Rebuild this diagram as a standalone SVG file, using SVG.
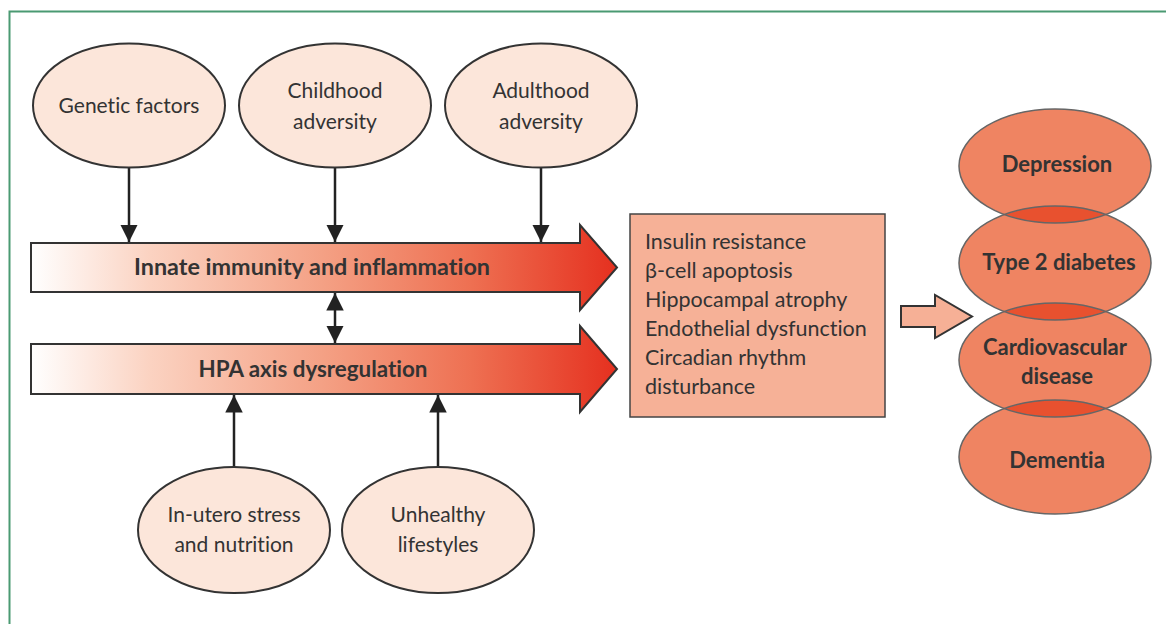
<svg xmlns="http://www.w3.org/2000/svg" width="1166" height="624" viewBox="0 0 1166 624">
  <style>
    text { font-variant-ligatures: none; font-feature-settings: "liga" 0, "clig" 0, "dlig" 0; }
    .lbl { font-family: Lato, "Open Sans", "Liberation Sans", sans-serif; fill: #333; font-size: 21px; text-anchor: middle; }
    .bold { font-weight: bold; font-size: 22px; }
    .list { font-family: Lato, "Open Sans", "Liberation Sans", sans-serif; fill: #333; font-size: 21.5px; }
    .factor { fill: #fce6da; stroke: #333; stroke-width: 2; }
    .outcome { fill: #ef8462; }
    .outline { fill: none; stroke: #666; stroke-width: 1.5; }
    .lens { fill: #e8512f; }
    .link { stroke: #222; stroke-width: 2.5; fill: none; }
    .path { stroke: #333; stroke-width: 2; }
  </style>
  <defs>
    <linearGradient id="pathFill" gradientUnits="userSpaceOnUse" x1="31" y1="0" x2="617" y2="0">
      <stop offset="0" stop-color="#ffffff"/>
      <stop offset="0.2" stop-color="#fbd3c2"/>
      <stop offset="0.5" stop-color="#f4a084"/>
      <stop offset="0.75" stop-color="#ee7052"/>
      <stop offset="1" stop-color="#e5301f"/>
    </linearGradient>
    <marker id="head" viewBox="0 0 10 10" refX="10" refY="5" markerWidth="7" markerHeight="7" markerUnits="strokeWidth" orient="auto-start-reverse">
      <path d="M0,0 L10,5 L0,10 Z" fill="#222"/>
    </marker>
    <clipPath id="clipDep"><ellipse cx="1055" cy="166" rx="96" ry="57"/></clipPath>
    <clipPath id="clipT2d"><ellipse cx="1055" cy="263" rx="96" ry="57"/></clipPath>
    <clipPath id="clipCvd"><ellipse cx="1055" cy="360" rx="96" ry="57"/></clipPath>
  </defs>

  <rect width="1166" height="624" fill="#ffffff"/>
  <!-- panel frame -->
  <path d="M1168,11.5 H9.5 V630" fill="none" stroke="#4a9a72" stroke-width="2"/>

  <!-- connectors -->
  <g id="connectors">
    <line class="link" x1="129" y1="168" x2="129" y2="242" marker-end="url(#head)"/>
    <line class="link" x1="335" y1="168" x2="335" y2="242" marker-end="url(#head)"/>
    <line class="link" x1="541" y1="168" x2="541" y2="242" marker-end="url(#head)"/>
    <line class="link" x1="335" y1="293" x2="335" y2="343" marker-start="url(#head)" marker-end="url(#head)"/>
    <line class="link" x1="234" y1="467" x2="234" y2="395" marker-end="url(#head)"/>
    <line class="link" x1="438" y1="467" x2="438" y2="395" marker-end="url(#head)"/>
  </g>

  <!-- source factors -->
  <g id="genetic">
    <ellipse class="factor" cx="129" cy="105.5" rx="96" ry="62"/>
    <text class="lbl" x="129" y="113">Genetic factors</text>
  </g>
  <g id="childhood">
    <ellipse class="factor" cx="335" cy="105.5" rx="96" ry="62"/>
    <text class="lbl" x="335" y="98">Childhood</text>
    <text class="lbl" x="335" y="129">adversity</text>
  </g>
  <g id="adulthood">
    <ellipse class="factor" cx="541" cy="105.5" rx="96" ry="62"/>
    <text class="lbl" x="541" y="98">Adulthood</text>
    <text class="lbl" x="541" y="129">adversity</text>
  </g>
  <g id="inutero">
    <ellipse class="factor" cx="234" cy="530" rx="96" ry="63"/>
    <text class="lbl" x="234" y="522">In-utero stress</text>
    <text class="lbl" x="234" y="552">and nutrition</text>
  </g>
  <g id="lifestyles">
    <ellipse class="factor" cx="438" cy="530" rx="96" ry="63"/>
    <text class="lbl" x="438" y="522">Unhealthy</text>
    <text class="lbl" x="438" y="552">lifestyles</text>
  </g>

  <!-- pathway arrows -->
  <g id="inflammation">
    <path class="path" fill="url(#pathFill)" d="M31,243 H580 V225 L617,267.5 L580,310 V292 H31 Z"/>
    <text class="lbl bold" x="312" y="275" textLength="356" lengthAdjust="spacingAndGlyphs">Innate immunity and inflammation</text>
  </g>
  <g id="hpa">
    <path class="path" fill="url(#pathFill)" d="M31,344 H580 V326 L617,369 L580,412 V394 H31 Z"/>
    <text class="lbl bold" x="313" y="377" textLength="229" lengthAdjust="spacingAndGlyphs">HPA axis dysregulation</text>
  </g>

  <!-- mechanisms -->
  <g id="mechanisms">
    <rect x="630" y="214" width="255" height="203" fill="#f6b197" stroke="#444" stroke-width="1.5"/>
    <text class="list" x="645" y="249">Insulin resistance</text>
    <text class="list" x="645" y="278">β-cell apoptosis</text>
    <text class="list" x="645" y="307">Hippocampal atrophy</text>
    <text class="list" x="645" y="336">Endothelial dysfunction</text>
    <text class="list" x="645" y="365">Circadian rhythm</text>
    <text class="list" x="645" y="394">disturbance</text>
  </g>

  <g id="to-outcomes">
    <path d="M901,306 H935 V295 L972,316.5 L935,338 V327 H901 Z" fill="#f6b096" stroke="#333" stroke-width="2"/>
  </g>

  <!-- outcomes -->
  <g id="outcomes">
    <g id="depression"><ellipse class="outcome" cx="1055" cy="166" rx="96" ry="57"/></g>
    <g id="diabetes"><ellipse class="outcome" cx="1055" cy="263" rx="96" ry="57"/></g>
    <g id="cardiovascular"><ellipse class="outcome" cx="1055" cy="360" rx="96" ry="57"/></g>
    <g id="dementia"><ellipse class="outcome" cx="1055" cy="457" rx="96" ry="57"/></g>
    <ellipse class="lens" clip-path="url(#clipDep)" cx="1055" cy="263" rx="96" ry="57"/>
    <ellipse class="lens" clip-path="url(#clipT2d)" cx="1055" cy="360" rx="96" ry="57"/>
    <ellipse class="lens" clip-path="url(#clipCvd)" cx="1055" cy="457" rx="96" ry="57"/>
    <ellipse class="outline" cx="1055" cy="166" rx="96" ry="57"/>
    <ellipse class="outline" cx="1055" cy="263" rx="96" ry="57"/>
    <ellipse class="outline" cx="1055" cy="360" rx="96" ry="57"/>
    <ellipse class="outline" cx="1055" cy="457" rx="96" ry="57"/>
    <text class="lbl bold" x="1057" y="172">Depression</text>
    <text class="lbl bold" x="1059" y="270">Type 2 diabetes</text>
    <text class="lbl bold" x="1055" y="355">Cardiovascular</text>
    <text class="lbl bold" x="1057" y="384">disease</text>
    <text class="lbl bold" x="1057" y="468">Dementia</text>
  </g>
</svg>
